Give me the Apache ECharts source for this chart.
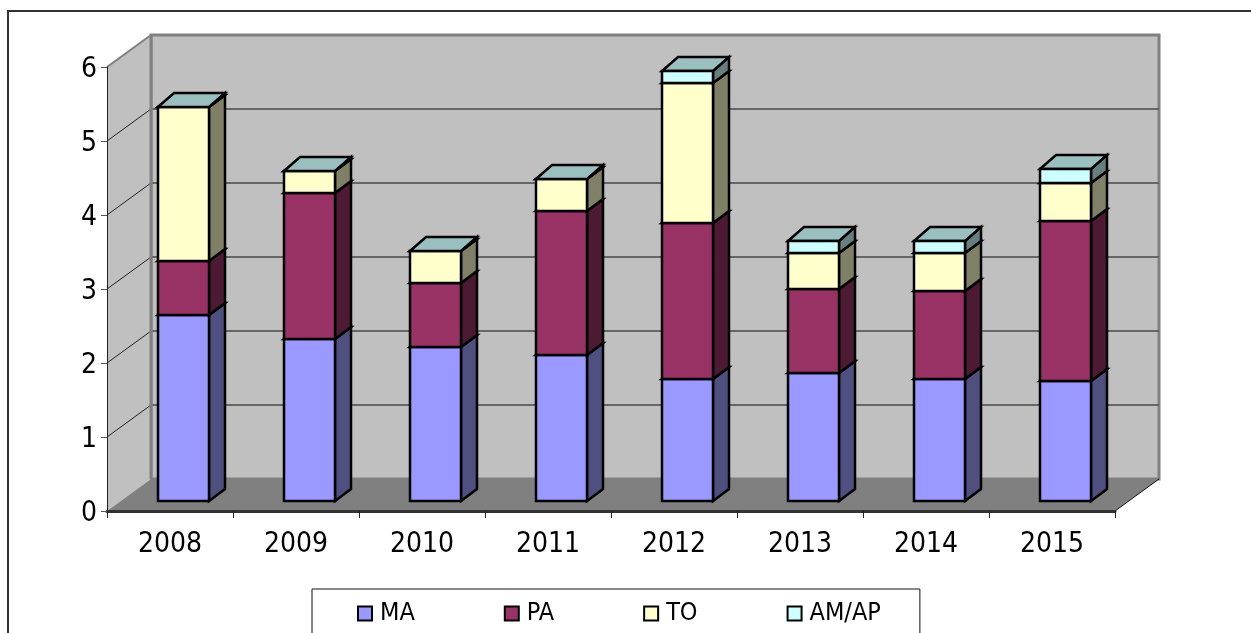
<!DOCTYPE html>
<html>
<head>
<meta charset="utf-8">
<style>
    html, body { margin: 0; padding: 0; background: #fff; }
    #chart { width: 1251px; height: 633px; }
</style>
<script src="https://cdn.jsdelivr.net/npm/echarts@6/dist/echarts.min.js"></script>
</head>
<body>
<div id="chart"></div>
<script>
const years = ['2008', '2009', '2010', '2011', '2012', '2013', '2014', '2015']
const maValues = [2.51, 2.19, 2.08, 1.97, 1.65, 1.73, 1.65, 1.62]
const paValues = [0.73, 1.97, 0.87, 1.95, 2.11, 1.13, 1.19, 2.16]
const toValues = [2.08, 0.30, 0.43, 0.43, 1.89, 0.49, 0.51, 0.52]
const amValues = [0, 0, 0, 0, 0.16, 0.16, 0.16, 0.19]
const yTicks = [0, 1, 2, 3, 4, 5, 6]

const FONT = '"DejaVu Sans Condensed", "DejaVu Sans", sans-serif'
// projection of the fake 3d box, in pixels
const WALL_DX = 44
const WALL_DY = -32
const BAR_DX = 13.5
const BAR_DY = -10
const BAR_SIDE_DX = 16
const BAR_SIDE_DY = -12
const BAR_TOP_DY = -14
const BAR_WIDTH = 51
const BAR_STROKE = 2.5

const seriesDefs = [
    { name: 'MA', values: maValues, front: '#9999ff', side: '#4f4f80', top: '#7a7acc' },
    { name: 'PA', values: paValues, front: '#993366', side: '#4d1a33', top: '#7a2952' },
    { name: 'TO', values: toValues, front: '#ffffcc', side: '#808066', top: '#ccccaa' },
    { name: 'AM/AP', values: amValues, front: '#ccffff', side: '#668080', top: '#99bfbf', cap: true },
]

function poly(points, fill, stroke, lineWidth) {
    return {
        type: 'polygon',
        shape: { points },
        style: { fill, stroke, lineWidth, lineJoin: 'miter' },
    }
}

function seg(x1, y1, x2, y2, stroke, lineWidth) {
    return {
        type: 'line',
        shape: { x1, y1, x2, y2 },
        style: { stroke, lineWidth },
    }
}

// back wall, side wall, floor and gridlines
function renderBox(params, api) {
    const [x0, y0] = api.coord(['2008', 0])
    const yTop = api.coord(['2008', 6])[1]
    const size = api.size(['2008', 0])
    const left = x0 - size[0] / 2
    const right = left + size[0] * years.length
    const children = []
    children.push(poly([[left + WALL_DX, yTop + WALL_DY], [right + WALL_DX, yTop + WALL_DY], [right + WALL_DX, y0 + WALL_DY], [left + WALL_DX, y0 + WALL_DY]], '#c0c0c0', '#808080', 3))
    children.push(poly([[left, yTop], [left + WALL_DX, yTop + WALL_DY], [left + WALL_DX, y0 + WALL_DY], [left, y0]], '#c0c0c0', null, 0))
    yTicks.slice(1, -1).forEach(t => {
        const y = api.coord(['2008', t])[1]
        children.push(seg(left, y, left + WALL_DX, y + WALL_DY, '#222', 1))
        children.push(seg(left + WALL_DX, y + WALL_DY, right + WALL_DX, y + WALL_DY, '#666', 2))
    })
    children.push(seg(left, yTop, left + WALL_DX, yTop + WALL_DY, '#808080', 2))
    children.push(seg(left + WALL_DX, yTop + WALL_DY, left + WALL_DX, y0 + WALL_DY, '#808080', 3))
    children.push(poly([[left, y0], [left + WALL_DX, y0 + WALL_DY], [right + WALL_DX, y0 + WALL_DY], [right, y0]], '#808080', null, 0))
    children.push(seg(right, y0, right + WALL_DX, y0 + WALL_DY, '#111', 1))
    return { type: 'group', children }
}

function renderBar(def) {
    return function (params, api) {
        const cat = api.value(0)
        const low = api.coord([cat, api.value(1)])
        const high = api.coord([cat, api.value(2)])
        const x1 = Math.round(low[0] + BAR_DX - BAR_WIDTH / 2)
        const x2 = x1 + BAR_WIDTH
        const yb = Math.round(low[1] + BAR_DY)
        const yt = Math.round(high[1] + BAR_DY)
        const topDy = def.cap ? BAR_TOP_DY : BAR_SIDE_DY
        const children = []
        children.push(poly([[x2, yt], [x2 + BAR_SIDE_DX, yt + topDy], [x2 + BAR_SIDE_DX, yb + BAR_SIDE_DY], [x2, yb]], def.side, '#000', BAR_STROKE))
        children.push(poly([[x1, yt], [x1 + BAR_SIDE_DX, yt + topDy], [x2 + BAR_SIDE_DX, yt + topDy], [x2, yt]], def.top, '#000', BAR_STROKE))
        if (yb - yt > 0) {
            children.push(poly([[x1, yt], [x2, yt], [x2, yb], [x1, yb]], def.front, '#000', BAR_STROKE))
        }
        return { type: 'group', children }
    }
}

const running = years.map(() => 0)
const barSeries = seriesDefs.map(def => {
    const data = def.values.map((v, i) => {
        const row = [i, running[i], running[i] + v]
        running[i] += v
        return row
    })
    return {
        name: def.name,
        type: 'custom',
        renderItem: renderBar(def),
        encode: { x: 0, y: [1, 2] },
        data,
        itemStyle: { color: def.front, borderColor: '#000', borderWidth: 2 },
        z: 5,
        silent: true,
    }
})

const chart = echarts.init(document.getElementById('chart'), null, { renderer: 'canvas' })
chart.setOption({
    animation: false,
    backgroundColor: '#fff',
    textStyle: { fontFamily: FONT },
    grid: { left: 107, top: 67, width: 1008, height: 444, containLabel: false },
    graphic: [{
        type: 'rect',
        shape: { x: 8, y: 11, width: 1400, height: 800 },
        style: { fill: 'none', stroke: '#333', lineWidth: 2 },
        z: -10,
    }],
    legend: {
        left: 312,
        top: 589,
        padding: [12, 39, 40, 45],
        itemGap: 89,
        itemWidth: 14,
        itemHeight: 14,
        icon: 'rect',
        borderColor: '#111',
        borderWidth: 1,
        backgroundColor: '#fff',
        textStyle: { fontFamily: FONT, fontSize: 25, color: '#000', padding: [0, 0, 0, 3] },
        data: seriesDefs.map(d => d.name),
    },
    xAxis: {
        type: 'category',
        data: years,
        z: 8,
        axisLine: { show: true, lineStyle: { color: '#333', width: 3 } },
        axisTick: { show: true, alignWithLabel: false, length: 7, lineStyle: { color: '#222', width: 1 } },
        axisLabel: { fontFamily: FONT, fontSize: 28, color: '#000', margin: 20 },
        splitLine: { show: false },
    },
    yAxis: {
        type: 'value',
        min: 0,
        max: 6,
        interval: 1,
        z: 8,
        axisLine: { show: true, lineStyle: { color: '#222', width: 1 } },
        axisTick: { show: true, length: 6, lineStyle: { color: '#555', width: 1 } },
        axisLabel: {
            margin: 10,
            formatter: '{n|{value}}',
            rich: { n: { fontFamily: FONT, fontSize: 28, color: '#000', padding: [6, 0, 0, 0] } },
        },
        splitLine: { show: false },
    },
    series: [{
        type: 'custom',
        renderItem: renderBox,
        data: [[0, 0]],
        encode: { x: 0, y: 1 },
        z: 1,
        silent: true,
    }].concat(barSeries),
})
</script>
</body>
</html>
